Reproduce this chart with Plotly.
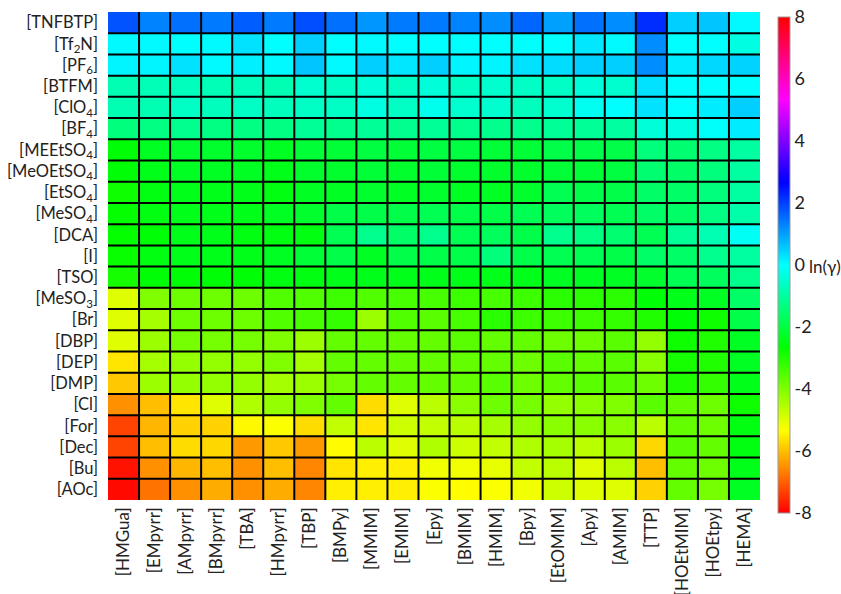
import colorsys
import plotly.graph_objects as go

# Cations (columns) and anions (rows)
cations = ["[HMGua]", "[EMpyrr]", "[AMpyrr]", "[BMpyrr]", "[TBA]", "[HMpyrr]", "[TBP]",
           "[BMPy]", "[MMIM]", "[EMIM]", "[Epy]", "[BMIM]", "[HMIM]", "[Bpy]",
           "[EtOMIM]", "[Apy]", "[AMIM]", "[TTP]", "[HOEtMIM]", "[HOEtpy]", "[HEMA]"]

anions = ["[TNFBTP]", "[Tf<sub>2</sub>N]", "[PF<sub>6</sub>]", "[BTFM]", "[ClO<sub>4</sub>]",
          "[BF<sub>4</sub>]", "[MEEtSO<sub>4</sub>]", "[MeOEtSO<sub>4</sub>]", "[EtSO<sub>4</sub>]",
          "[MeSO<sub>4</sub>]", "[DCA]", "[I]", "[TSO]", "[MeSO<sub>3</sub>]", "[Br]", "[DBP]",
          "[DEP]", "[DMP]", "[Cl]", "[For]", "[Dec]", "[Bu]", "[AOc]"]

# ln(gamma) values, one list per anion, in cation order
ln_gamma_TNFBTP = [1.8, 1.3, 1.5, 1.4, 1.7, 1.4, 1.85, 1.5, 1.1, 1.4, 1.4, 1.3, 1.2, 1.6, 1.0, 1.5, 1.2, 2.2, 0.5, 0.6, 0.05]
ln_gamma_Tf2N = [0.05, 0.05, 0.0, 0.05, 0.3, 0.0, 0.5, 0.0, 0.05, 0.0, 0.0, 0.0, 0.0, 0.0, 0.0, 0.25, 0.05, 1.2, 0.0, 0.0, -0.3]
ln_gamma_PF6 = [0.1, 0.1, 0.3, 0.05, 0.15, 0.05, 0.6, 0.05, 0.5, 0.25, 0.5, 0.1, 0.1, 0.3, 0.35, 0.5, 0.5, 1.2, 0.2, 0.4, 0.45]
ln_gamma_BTFM = [-0.8, -0.75, -0.7, -0.75, -0.7, -0.8, -0.5, -0.6, -0.4, -0.6, -0.4, -0.6, -0.5, -0.6, -0.6, -0.4, -0.5, 0.3, 0.0, 0.0, 0.0]
ln_gamma_ClO4 = [-0.8, -0.8, -0.6, -0.7, -0.6, -0.7, -0.6, -0.6, -0.3, -0.6, -0.2, -0.5, -0.5, -0.7, -0.5, -0.15, 0.0, 0.3, 0.0, 0.2, 0.5]
ln_gamma_BF4 = [-1.4, -1.3, -1.2, -1.3, -1.3, -1.3, -1.1, -1.2, -1.1, -1.2, -1.1, -1.2, -1.2, -1.2, -1.1, -1.1, -1.0, -0.4, -0.3, -0.05, 0.2]
ln_gamma_MEEtSO4 = [-2.6, -2.3, -2.2, -2.2, -2.2, -2.3, -2.1, -2.1, -2.0, -2.1, -2.0, -2.0, -2.1, -2.1, -1.9, -1.9, -1.9, -1.4, -1.5, -1.3, -1.0]
ln_gamma_MeOEtSO4 = [-2.6, -2.4, -2.3, -2.3, -2.3, -2.4, -2.2, -2.2, -2.1, -2.2, -2.1, -2.2, -2.2, -2.2, -2.1, -2.1, -2.0, -1.5, -1.6, -1.4, -1.0]
ln_gamma_EtSO4 = [-2.8, -2.5, -2.4, -2.4, -2.4, -2.5, -2.3, -2.3, -2.2, -2.3, -2.2, -2.3, -2.3, -2.2, -1.8, -1.9, -1.9, -1.6, -1.6, -1.4, -1.0]
ln_gamma_MeSO4 = [-2.7, -2.5, -2.4, -2.4, -2.4, -2.3, -2.2, -1.9, -1.9, -1.9, -1.8, -1.9, -1.9, -1.8, -1.7, -1.7, -1.8, -1.6, -1.6, -1.3, -0.9]
ln_gamma_DCA = [-2.7, -2.6, -2.4, -2.4, -2.5, -2.5, -2.5, -1.8, -1.2, -1.6, -1.2, -1.8, -1.7, -1.9, -1.2, -1.3, -1.5, -1.8, -1.1, -0.8, -0.1]
ln_gamma_I = [-2.75, -2.5, -2.4, -2.4, -2.4, -2.3, -2.1, -1.9, -2.3, -1.9, -1.9, -1.9, -1.4, -1.9, -1.8, -1.8, -1.9, -1.6, -1.6, -1.2, -1.0]
ln_gamma_TSO = [-2.9, -2.6, -2.6, -2.6, -2.6, -2.5, -2.5, -2.4, -2.4, -2.4, -2.4, -2.4, -2.4, -2.4, -2.3, -2.3, -2.3, -2.2, -1.8, -1.7, -1.2]
ln_gamma_MeSO3 = [-5.0, -4.0, -3.8, -3.8, -3.8, -3.5, -3.5, -3.3, -3.5, -3.4, -3.4, -3.3, -3.4, -3.3, -3.1, -3.1, -3.1, -2.6, -2.4, -2.3, -1.6]
ln_gamma_Br = [-5.0, -4.4, -3.8, -3.8, -3.8, -3.5, -3.4, -3.2, -4.3, -3.5, -3.6, -3.4, -3.1, -3.3, -3.3, -3.3, -3.2, -3.0, -2.6, -2.8, -1.9]
ln_gamma_DBP = [-5.0, -4.3, -3.9, -3.9, -3.9, -4.0, -4.3, -3.7, -3.7, -3.7, -3.7, -3.6, -3.7, -3.7, -3.8, -3.8, -3.6, -4.2, -2.8, -3.0, -2.3]
ln_gamma_DEP = [-5.6, -4.4, -4.2, -4.2, -4.2, -4.0, -4.4, -3.7, -3.7, -3.7, -3.7, -3.7, -3.7, -3.8, -3.6, -3.7, -3.6, -4.1, -2.9, -3.0, -2.3]
ln_gamma_DMP = [-5.9, -4.3, -4.2, -4.2, -4.2, -4.4, -4.3, -3.9, -3.7, -3.7, -3.7, -3.7, -3.6, -3.8, -3.7, -3.6, -3.6, -3.8, -3.0, -3.2, -2.4]
ln_gamma_Cl = [-6.5, -6.0, -5.6, -5.0, -4.5, -4.2, -4.0, -3.7, -5.7, -5.0, -4.6, -4.1, -3.8, -3.9, -4.2, -4.1, -4.0, -3.6, -3.7, -3.8, -2.8]
ln_gamma_For = [-7.3, -6.1, -5.8, -5.8, -5.4, -5.3, -5.7, -4.7, -5.6, -4.8, -4.7, -4.6, -4.4, -4.2, -4.1, -4.1, -4.1, -4.6, -3.7, -3.8, -2.5]
ln_gamma_Dec = [-7.3, -6.0, -5.7, -5.75, -6.4, -5.9, -6.4, -5.35, -4.6, -5.0, -4.5, -4.8, -4.7, -4.5, -4.4, -4.6, -4.3, -5.75, -3.6, -3.7, -2.5]
ln_gamma_Bu = [-7.8, -6.5, -6.1, -6.0, -6.5, -6.0, -6.6, -5.6, -5.5, -5.5, -5.2, -5.2, -5.1, -4.7, -4.6, -5.0, -4.6, -6.0, -3.7, -3.8, -2.4]
ln_gamma_AOc = [-7.9, -6.8, -6.5, -6.2, -6.5, -6.2, -6.6, -5.5, -5.5, -5.5, -5.3, -5.35, -5.3, -5.2, -4.8, -5.0, -5.0, -5.8, -3.7, -3.9, -2.3]

colorbar_ticks = [-8, -6, -4, -2, 0, 2, 4, 6, 8]
colorbar_labels = ["-8", "-6", "-4", "-2", "0", "2", "4", "6", "8"]

z = [ln_gamma_TNFBTP, ln_gamma_Tf2N, ln_gamma_PF6, ln_gamma_BTFM, ln_gamma_ClO4, ln_gamma_BF4,
     ln_gamma_MEEtSO4, ln_gamma_MeOEtSO4, ln_gamma_EtSO4, ln_gamma_MeSO4, ln_gamma_DCA, ln_gamma_I,
     ln_gamma_TSO, ln_gamma_MeSO3, ln_gamma_Br, ln_gamma_DBP, ln_gamma_DEP, ln_gamma_DMP,
     ln_gamma_Cl, ln_gamma_For, ln_gamma_Dec, ln_gamma_Bu, ln_gamma_AOc]

# HSV hue wheel colour scale (red -> yellow -> green -> cyan -> blue -> magenta -> red)
n_stops = 37
hsv_scale = []
for k in range(n_stops):
    f = k / (n_stops - 1)
    r, g, b = colorsys.hsv_to_rgb(f if f < 1 else 0.0, 1.0, 1.0)
    hsv_scale.append([f, f"rgb({round(r*255)},{round(g*255)},{round(b*255)})"])

FONT = "Lato, 'Open Sans', sans-serif"
TEXT = "#222"

fig = go.Figure(go.Heatmap(
    z=z,
    x=list(range(len(cations))),
    y=list(range(len(anions))),
    zmin=-8, zmax=8,
    colorscale=hsv_scale,
    colorbar=dict(
        x=1.012, xanchor="left",
        y=0.482, yanchor="middle",
        len=496, lenmode="pixels",
        ypad=0,
        thickness=12,
        outlinewidth=1, outlinecolor="#999",
        tickvals=colorbar_ticks, ticktext=colorbar_labels,
        ticks="",
        tickfont=dict(family=FONT, size=18, color=TEXT),
    ),
    hovertemplate="%{z}<extra></extra>",
))

# black cell borders
shapes = []
ncol, nrow = len(cations), len(anions)
for i in range(1, ncol):
    shapes.append(dict(type="line", xref="x", yref="y", x0=i - 0.5, x1=i - 0.5,
                       y0=-0.5, y1=nrow - 0.5, line=dict(color="black", width=2)))
for j in range(1, nrow):
    shapes.append(dict(type="line", xref="x", yref="y", x0=-0.5, x1=ncol - 0.5,
                       y0=j - 0.5, y1=j - 0.5, line=dict(color="black", width=2)))

fig.update_layout(
    width=841, height=594,
    margin=dict(l=108, r=81, t=12, b=94),
    paper_bgcolor="white", plot_bgcolor="white",
    shapes=shapes,
    font=dict(family=FONT, size=16, color=TEXT),
    xaxis=dict(
        tickmode="array", tickvals=list(range(ncol)), ticktext=cations,
        tickangle=-90, showgrid=False, zeroline=False, ticks="",
        automargin=False, range=[-0.5, ncol - 0.5],
        ticklabelstandoff=3,
        tickfont=dict(family=FONT, size=17, color=TEXT),
    ),
    yaxis=dict(
        tickmode="array", tickvals=list(range(nrow)), ticktext=anions,
        autorange=False, range=[nrow - 0.5, -0.5],
        showgrid=False, zeroline=False, ticks="", automargin=False,
        ticklabelstandoff=9,
        tickfont=dict(family=FONT, size=16.5, color=TEXT),
    ),
    annotations=[dict(
        text="ln(γ)", xref="paper", yref="paper", x=1.072, y=0.478,
        xanchor="left", yanchor="middle", showarrow=False,
        font=dict(family=FONT, size=17, color=TEXT),
    )],
)

fig.write_html("out.html")
